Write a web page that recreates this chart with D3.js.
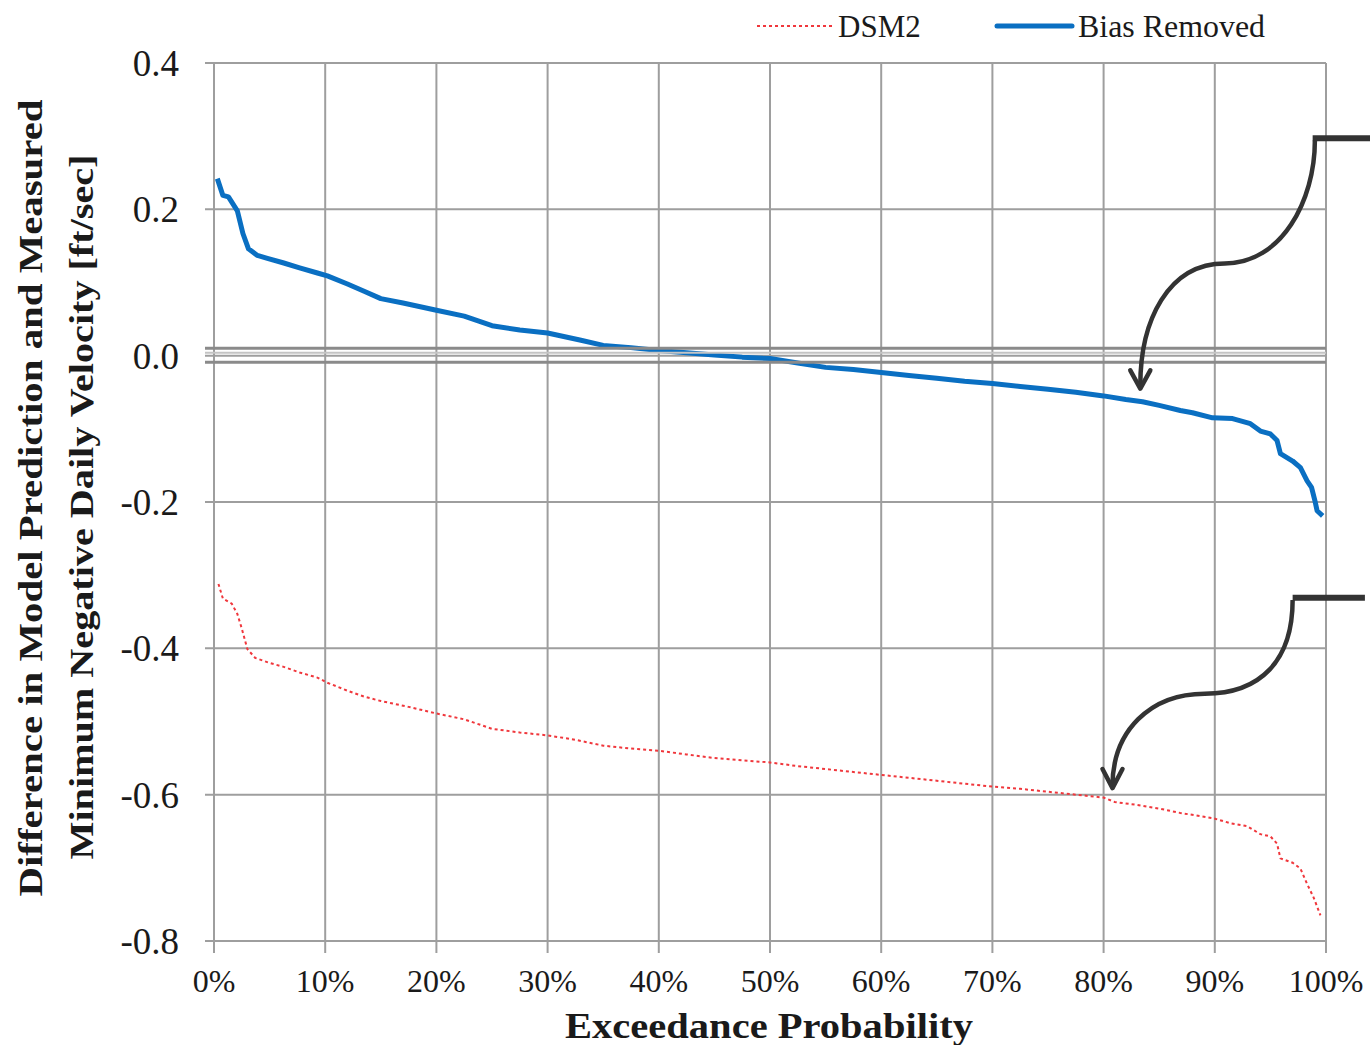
<!DOCTYPE html>
<html>
<head>
<meta charset="utf-8">
<script src="https://cdn.jsdelivr.net/npm/d3@7/dist/d3.min.js"></script>
<style>
  body { margin: 0; background: #fff; }
  text { font-family: "Liberation Serif", "Times New Roman", serif; fill: #1a1a1a; }
</style>
</head>
<body>
<div id="chart"></div>
<script>
// exceedance probability (%) and values
const biasPct = [0.3, 0.8, 1.3, 2.1, 2.6, 3.1, 3.9, 4.8, 6.2, 7.7, 9.3, 10.2, 12, 13.5, 15, 17, 20, 22.5, 25, 27.5, 30, 33, 35, 37.5, 40, 42.5, 45, 47.5, 50, 52.5, 55, 57.5, 60, 62.5, 65, 67.5, 70, 72.5, 75, 77.5, 80, 82, 83.5, 85, 86.9, 88, 89.8, 91.6, 93.2, 94.1, 95.0, 95.6, 95.9, 97.0, 97.7, 98.3, 98.7, 99.0, 99.2, 99.7];
const biasVal = [0.242, 0.219, 0.217, 0.198, 0.167, 0.146, 0.137, 0.133, 0.127, 0.120, 0.113, 0.109, 0.098, 0.088, 0.078, 0.072, 0.062, 0.054, 0.041, 0.035, 0.031, 0.021, 0.014, 0.011, 0.007, 0.004, 0.001, -0.002, -0.004, -0.010, -0.016, -0.019, -0.023, -0.027, -0.031, -0.035, -0.038, -0.042, -0.046, -0.050, -0.055, -0.060, -0.063, -0.068, -0.075, -0.078, -0.085, -0.086, -0.093, -0.103, -0.107, -0.116, -0.134, -0.144, -0.153, -0.171, -0.180, -0.198, -0.212, -0.219];

const dsmPct = [0.4, 0.8, 1.6, 2.1, 2.5, 3.0, 3.7, 5.0, 6.2, 7.7, 9.3, 10.2, 12, 13.5, 15, 17.5, 20, 22.5, 25, 27.5, 30, 32.5, 35, 37.5, 40, 42.5, 45, 47.5, 50, 52.5, 55, 57.5, 60, 62.5, 65, 67.5, 70, 72.5, 75, 77.5, 80, 81, 83, 85, 86.9, 89.8, 91.4, 92.9, 94.1, 95.0, 95.6, 95.9, 97.0, 97.7, 98.3, 98.9, 99.5];
const dsmVal = [-0.312, -0.332, -0.339, -0.353, -0.373, -0.401, -0.413, -0.420, -0.425, -0.433, -0.440, -0.447, -0.458, -0.466, -0.472, -0.480, -0.489, -0.497, -0.510, -0.515, -0.519, -0.525, -0.533, -0.537, -0.540, -0.545, -0.550, -0.553, -0.556, -0.561, -0.565, -0.569, -0.573, -0.577, -0.581, -0.585, -0.589, -0.592, -0.596, -0.600, -0.604, -0.610, -0.614, -0.619, -0.625, -0.632, -0.639, -0.643, -0.654, -0.657, -0.667, -0.687, -0.693, -0.701, -0.722, -0.741, -0.765];

const xTicks = [0, 10, 20, 30, 40, 50, 60, 70, 80, 90, 100];
const yTicks = [-0.8, -0.6, -0.4, -0.2, 0.0, 0.2, 0.4];
const refLines = [0.010, 0.004, -0.009];

// annotation arrows, in data units [pct, value]
const arrow1Bar = [[98.8, 0.297], [104.5, 0.297]];
const arrow1Curve = [[99.0, 0.294], [99.0, 0.212], [96.0, 0.126], [90.9, 0.126], [85.8, 0.126], [83.3, 0.048], [83.3, -0.041]];
const arrow1Head = [[82.4, -0.020], [83.3, -0.045], [84.2, -0.020]];
const arrow2Bar = [[97.0, -0.331], [103.5, -0.331]];
const arrow2Curve = [[97.0, -0.334], [97.0, -0.417], [94.1, -0.462], [89.1, -0.462], [84.2, -0.462], [80.8, -0.513], [80.8, -0.588]];
const arrow2Head = [[79.9, -0.565], [80.8, -0.591], [81.7, -0.565]];

const width = 1370, height = 1045;
const margin = {top: 63, right: 44, bottom: 104, left: 214};

let svg = d3.select("#chart").append("svg")
    .attr("width", width)
    .attr("height", height);

let x = d3.scaleLinear().domain([0, 100]).range([margin.left, width - margin.right]);
let y = d3.scaleLinear().domain([-0.8, 0.4]).range([height - margin.bottom, margin.top]);

// grid
svg.append("g").selectAll("line.v")
    .data(xTicks).enter().append("line")
    .attr("x1", d => x(d)).attr("x2", d => x(d))
    .attr("y1", y(0.4)).attr("y2", y(-0.8) + 12)
    .attr("stroke", "#9e9e9e").attr("stroke-width", 2);

svg.append("g").selectAll("line.h")
    .data(yTicks).enter().append("line")
    .attr("x1", x(0) - 9).attr("x2", x(100))
    .attr("y1", d => y(d)).attr("y2", d => y(d))
    .attr("stroke", "#9e9e9e").attr("stroke-width", 2);

// tick labels
svg.append("g").selectAll("text")
    .data(yTicks).enter().append("text")
    .attr("x", x(0) - 35).attr("y", d => y(d))
    .attr("dy", "0.35em")
    .attr("text-anchor", "end")
    .style("font-size", "37px")
    .text(d => d3.format(".1f")(d).replace("−", "-"));

svg.append("g").selectAll("text")
    .data(xTicks).enter().append("text")
    .attr("x", d => x(d)).attr("y", y(-0.8) + 51)
    .attr("text-anchor", "middle")
    .style("font-size", "32px")
    .text(d => d + "%");

// series
let line = d3.line().x(d => x(d[0])).y(d => y(d[1]));

svg.append("path")
    .datum(dsmPct.map((p, i) => [p, dsmVal[i]]))
    .attr("d", line)
    .attr("fill", "none")
    .attr("stroke", "#f0373c")
    .attr("stroke-width", 2)
    .attr("stroke-dasharray", "3,3");

svg.append("path")
    .datum(biasPct.map((p, i) => [p, biasVal[i]]))
    .attr("d", line)
    .attr("fill", "none")
    .attr("stroke", "#0a6fc2")
    .attr("stroke-width", 5)
    .attr("stroke-linejoin", "round");

// reference lines around zero
svg.append("g").selectAll("line")
    .data(refLines).enter().append("line")
    .attr("x1", x(0) - 9).attr("x2", x(100))
    .attr("y1", d => y(d)).attr("y2", d => y(d))
    .attr("stroke", (d, i) => i == 1 ? "#c4c4c4" : "#8a8a8a")
    .attr("stroke-width", (d, i) => i == 1 ? 2 : 3);

// arrows
let bez = pts => {
    let p = pts.map(d => [x(d[0]), y(d[1])]);
    return "M" + p[0] + "C" + p[1] + " " + p[2] + " " + p[3] + "C" + p[4] + " " + p[5] + " " + p[6];
};
let poly = pts => "M" + pts.map(d => [x(d[0]), y(d[1])]).join("L");

[[arrow1Bar, arrow1Curve, arrow1Head], [arrow2Bar, arrow2Curve, arrow2Head]].forEach(a => {
    svg.append("path").attr("d", poly(a[0]))
        .attr("stroke", "#333").attr("stroke-width", 6).attr("fill", "none");
    svg.append("path").attr("d", bez(a[1]))
        .attr("stroke", "#333").attr("stroke-width", 4.5).attr("fill", "none");
    svg.append("path").attr("d", poly(a[2]))
        .attr("stroke", "#333").attr("stroke-width", 4.5).attr("fill", "none")
        .attr("stroke-linecap", "round").attr("stroke-linejoin", "round");
});

// legend
let legend = svg.append("g");
legend.append("line")
    .attr("x1", 757).attr("x2", 832).attr("y1", 26).attr("y2", 26)
    .attr("stroke", "#f0373c").attr("stroke-width", 2).attr("stroke-dasharray", "3,3");
legend.append("text").attr("x", 838).attr("y", 26).attr("dy", "0.35em")
    .style("font-size", "31px").text("DSM2");
legend.append("line")
    .attr("x1", 997).attr("x2", 1072).attr("y1", 26).attr("y2", 26)
    .attr("stroke", "#0a6fc2").attr("stroke-width", 5).attr("stroke-linecap", "round");
legend.append("text").attr("x", 1078).attr("y", 26).attr("dy", "0.35em")
    .style("font-size", "31px")
    .attr("textLength", 187).attr("lengthAdjust", "spacingAndGlyphs")
    .text("Bias Removed");

// axis titles
svg.append("text")
    .attr("x", 769).attr("y", 1038)
    .attr("text-anchor", "middle")
    .style("font-size", "35px").style("font-weight", "bold")
    .attr("textLength", 408).attr("lengthAdjust", "spacingAndGlyphs")
    .text("Exceedance Probability");

svg.append("text")
    .attr("transform", "translate(42,498) rotate(-90)")
    .attr("text-anchor", "middle")
    .style("font-size", "34px").style("font-weight", "bold")
    .attr("textLength", 797).attr("lengthAdjust", "spacingAndGlyphs")
    .text("Difference in Model Prediction and Measured");

svg.append("text")
    .attr("transform", "translate(93,507) rotate(-90)")
    .attr("text-anchor", "middle")
    .style("font-size", "34px").style("font-weight", "bold")
    .attr("textLength", 705).attr("lengthAdjust", "spacingAndGlyphs")
    .text("Minimum  Negative Daily Velocity [ft/sec]");
</script>
</body>
</html>
